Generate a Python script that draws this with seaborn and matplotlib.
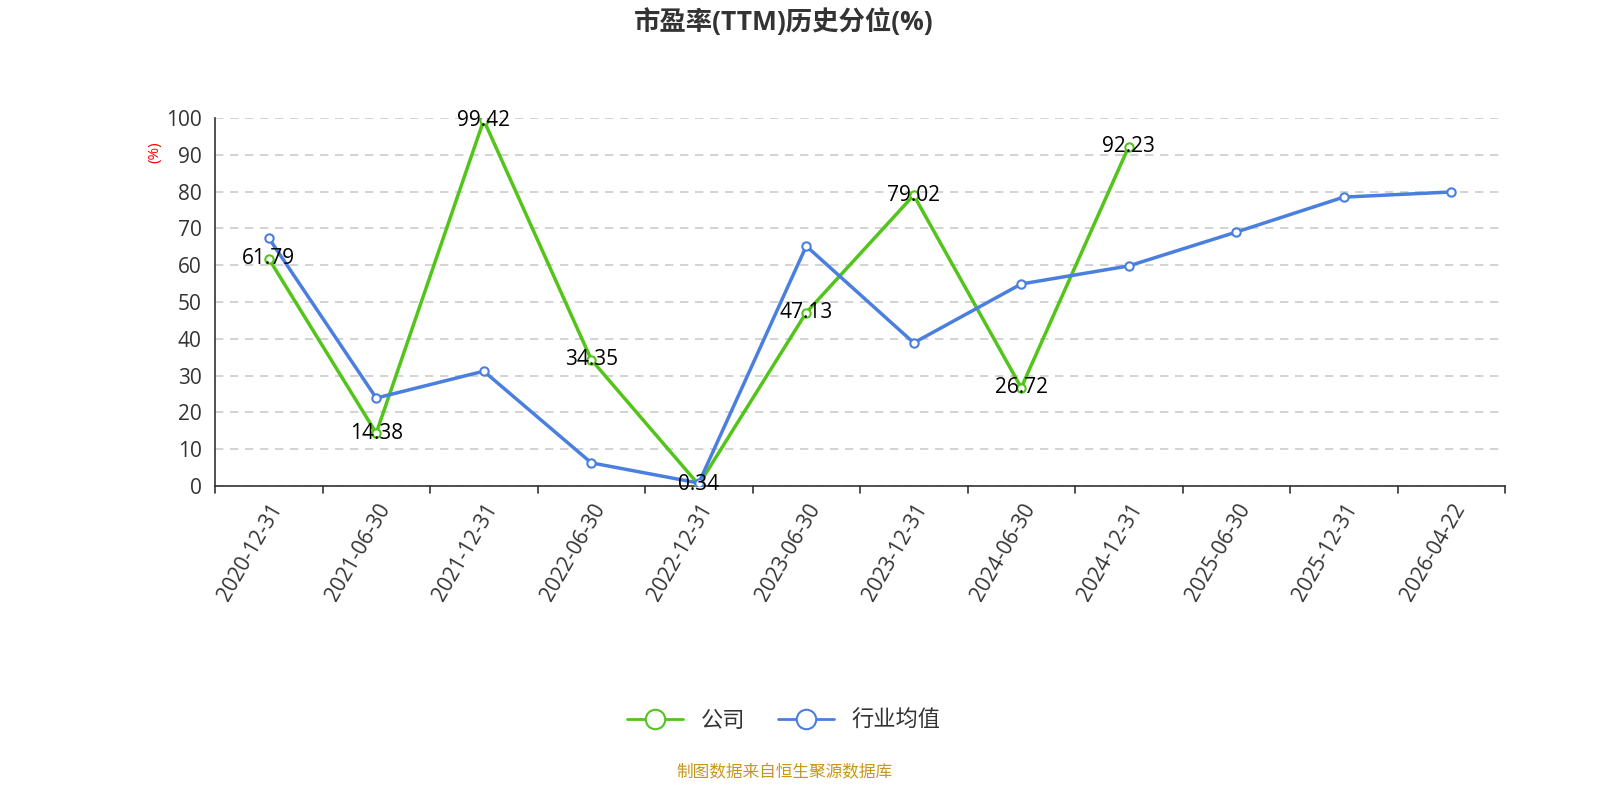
import matplotlib
matplotlib.use("Agg")
import matplotlib.pyplot as plt
import seaborn as sns
import numpy as np
import pandas as pd

dates = ["2020-12-31","2021-06-30","2021-12-31","2022-06-30","2022-12-31","2023-06-30",
         "2023-12-31","2024-06-30","2024-12-31","2025-06-30","2025-12-31","2026-04-22"]
company = [61.79,14.38,99.42,34.35,0.34,47.13,79.02,26.72,92.23]
industry = [67.4,23.9,31.2,6.3,0.8,65.2,38.9,54.9,59.8,69.0,78.5,79.9]

sns.set_style("white")
plt.rcParams['font.family'] = ['Open Sans', 'Noto Sans CJK SC', 'DejaVu Sans']

fig = plt.figure(figsize=(16, 8), dpi=100)
ax = fig.add_axes([215/1600, 1-486/800, (1505-215)/1600, (486-118)/800])

green = "#52c41a"; blue = "#4a7fe0"
dfc = pd.DataFrame({"x": np.arange(len(company)), "y": company})
dfi = pd.DataFrame({"x": np.arange(len(industry)), "y": industry})
sns.lineplot(data=dfc, x="x", y="y", ax=ax, color=green, lw=2.5, marker="o",
             markersize=6, markerfacecolor="white", markeredgecolor=green, markeredgewidth=1.5, zorder=3)
sns.lineplot(data=dfi, x="x", y="y", ax=ax, color=blue, lw=2.5, marker="o",
             markersize=6, markerfacecolor="white", markeredgecolor=blue, markeredgewidth=1.5, zorder=4)
for i, v in enumerate(company):
    ax.text(i, v, f"{v:.2f}", ha="center", va="center", fontsize=15, color="black", zorder=5)

ax.set_xlim(-0.5, len(dates) - 0.5)
ax.set_ylim(0, 100)
ax.set_yticks(range(0, 101, 10))
ax.set_xticks(np.arange(len(dates)))
ax.set_xticklabels(dates, rotation=60, ha="right", rotation_mode="anchor", fontsize=15, color="#333333")
ax.tick_params(axis="x", length=0, pad=10)
for b in np.arange(len(dates) + 1) - 0.5:
    ax.plot([b, b], [0, -2], color="#333333", lw=1.2, clip_on=False, transform=ax.transData)
ax.tick_params(axis="y", labelsize=15, colors="#333333", length=6, width=1.2, direction="out")
ax.yaxis.grid(True, linestyle=(0, (5, 4)), color="#cccccc", lw=1.2)
ax.set_axisbelow(True)
for s in ["top", "right"]:
    ax.spines[s].set_visible(False)
ax.spines["left"].set_color("#333333"); ax.spines["bottom"].set_color("#333333")
ax.spines["left"].set_linewidth(1.2); ax.spines["bottom"].set_linewidth(1.2)
ax.set_xlabel(""); ax.set_ylabel("")
fig.text(155/1600, 1-152/800, "(%)", color="red", fontsize=11, rotation=90, ha="center", va="center")

fig.text(0.49, 1-22/800, "市盈率(TTM)历史分位(%)", ha="center", va="center", fontsize=19,
         fontweight="bold", color="#333333")

from matplotlib.lines import Line2D
h = [Line2D([], [], color=green, lw=2, marker="o", markersize=14, markerfacecolor="white", markeredgewidth=1.5),
     Line2D([], [], color=blue, lw=2, marker="o", markersize=14, markerfacecolor="white", markeredgewidth=1.5)]
fig.legend(h, ["公司", "行业均值"], loc="center", bbox_to_anchor=(0.49, 1-721/800), ncol=2,
           frameon=False, fontsize=16, handlelength=2.5, columnspacing=1.5, labelcolor="#333333")
fig.text(0.49, 1-773/800, "制图数据来自恒生聚源数据库", ha="center", va="center", fontsize=12, color="#c8961e")

fig.savefig("out.png", dpi=100)
